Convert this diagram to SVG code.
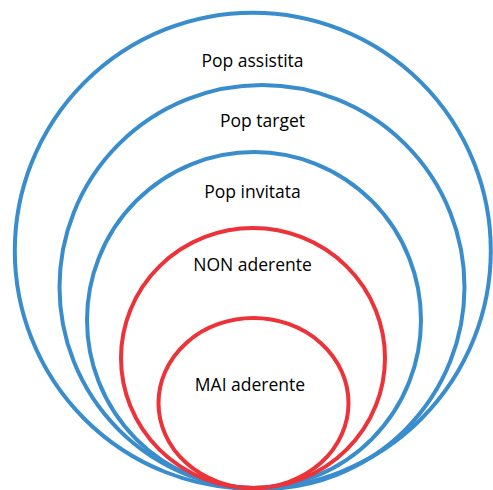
<svg xmlns="http://www.w3.org/2000/svg" width="493" height="490" viewBox="0 0 493 490">
<style>
.b{fill:none;stroke:#3A8DCD;stroke-width:4}
.r{fill:none;stroke:#EC3339;stroke-width:4}
text{font-family:"Open Sans","Noto Sans",sans-serif;font-size:17.5px;fill:#000;text-anchor:middle}
</style>
<rect width="493" height="490" fill="#fff"/>
<g id="pop-assistita">
<ellipse class="b" cx="252.8" cy="250.7" rx="238" ry="238"/>
<text x="252.5" y="67">Pop assistita</text>
</g>
<g id="pop-target">
<ellipse class="b" cx="262" cy="287" rx="202.5" ry="202"/>
<text x="262.5" y="127">Pop target</text>
</g>
<g id="pop-invitata">
<ellipse class="b" cx="254" cy="320" rx="167" ry="168"/>
<text x="252.5" y="198">Pop invitata</text>
</g>
<g id="non-aderente">
<ellipse class="r" cx="253" cy="358" rx="132" ry="130"/>
<text x="252.5" y="271">NON aderente</text>
</g>
<g id="mai-aderente">
<ellipse class="r" cx="253.5" cy="403" rx="95" ry="85"/>
<text x="250" y="391">MAI aderente</text>
</g>
<g id="connectors"/>
</svg>
